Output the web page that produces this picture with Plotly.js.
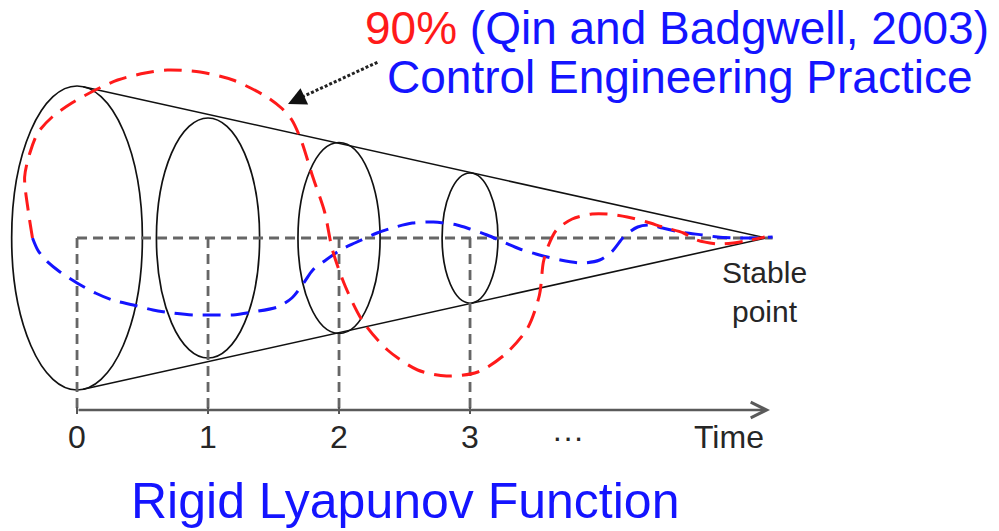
<!DOCTYPE html>
<html><head><meta charset="utf-8">
<script src="https://cdn.plot.ly/plotly-3.0.1.min.js"></script>
<style>html,body{margin:0;padding:0;background:#fff}#chart{width:999px;height:531px}</style>
</head><body><div id="chart"></div>
<script>
// ---- data (time units along x, deviation units along y) ----
const stageTimes = [0, 1, 2, 3];
const stageRadii = [1.52, 1.20, 0.955, 0.65];
const stableTime = 5.26;
const tickLabels = ["0", "1", "2", "3", "···", "Time"];
const tickTimes = [0, 1, 2, 3, 3.75, 4.98];

const redT = [-0.34,-0.37,-0.40,-0.36,-0.30,-0.19,-0.04,0.14,0.31,0.52,0.69,0.94,1.19,1.45,1.56,1.64,1.71,1.80,1.89,1.95,2.05,2.18,2.37,2.60,2.82,3.06,3.27,3.44,3.53,3.56,3.60,3.66,3.78,3.93,4.05,4.20,4.35,4.47,4.63,4.73,4.89,5.01,5.14,5.25];
const redD = [0,0.25,0.61,0.85,1.05,1.21,1.35,1.48,1.58,1.65,1.68,1.66,1.58,1.41,1.30,1.18,0.98,0.61,0.26,-0.12,-0.49,-0.83,-1.12,-1.32,-1.38,-1.34,-1.16,-0.90,-0.57,-0.24,-0.07,0.08,0.19,0.24,0.24,0.21,0.16,0.11,0.05,-0.02,-0.06,-0.05,-0.02,0.01];

const blueT = [-0.34,-0.30,-0.24,-0.13,0,0.14,0.27,0.43,0.58,0.73,0.89,1.04,1.19,1.34,1.53,1.64,1.73,1.80,1.89,2.01,2.12,2.29,2.43,2.56,2.72,2.90,3.0,3.13,3.27,3.38,3.53,3.69,3.86,3.99,4.08,4.18,4.28,4.37,4.47,4.60,4.78,4.89,5.04,5.19,5.31];
const blueD = [0,-0.12,-0.22,-0.34,-0.45,-0.55,-0.62,-0.67,-0.72,-0.75,-0.77,-0.77,-0.77,-0.74,-0.69,-0.60,-0.45,-0.32,-0.23,-0.12,-0.05,0.05,0.11,0.15,0.16,0.13,0.09,0.03,-0.05,-0.11,-0.17,-0.22,-0.25,-0.22,-0.14,0.02,0.11,0.13,0.10,0.06,0.03,0.01,0,0,0.01];

const titlePct = "90%";
const titleRest = " (Qin and Badgwell, 2003)";
const titleLine2 = "Control Engineering Practice";
const bottomTitle = "Rigid Lyapunov Function";
const stableLabel = "Stable<br>point";

// ---- layout / styling ----
const W = 999, H = 531;
const XR = [-0.588, 7.038], YR = [-2.93, 2.38];
const pxPerT = W / (XR[1] - XR[0]);
const pxPerD = H / (YR[1] - YR[0]);
const ASPECT = 0.43;            // ellipse rx/ry in pixels
const FONT = "Liberation Sans, Arial, Helvetica, sans-serif";
const axisD = -1.72;
const labelD = -1.99;
const BLUE = "#1414ff", RED = "#ff1a1a";

const shapes = [];
// ellipses
stageTimes.forEach((t, i) => {
  const r = stageRadii[i];
  const rx = ASPECT * r * pxPerD / pxPerT;
  shapes.push({type: "circle", xref: "x", yref: "y", x0: t - rx, x1: t + rx, y0: -r, y1: r,
    line: {color: "#111", width: 1.7}, layer: "below"});
});
// cone tangent lines from first ellipse to stable point
(function () {
  const b = stageRadii[0] * pxPerD, a = ASPECT * b, D = (stableTime - stageTimes[0]) * pxPerT;
  const xt = a * a / D, yt = b * Math.sqrt(1 - (a * a) / (D * D));
  const t0 = stageTimes[0] + xt / pxPerT, d0 = yt / pxPerD;
  [1, -1].forEach(s => shapes.push({type: "line", xref: "x", yref: "y", x0: t0, y0: s * d0, x1: stableTime, y1: 0,
    line: {color: "#111", width: 1.6}, layer: "below"}));
})();
// dashed reference lines
shapes.push({type: "line", xref: "x", yref: "y", x0: stageTimes[0], y0: 0, x1: stableTime + 0.05, y1: 0,
  line: {color: "#666", width: 2.8, dash: "10px,6px"}, layer: "below"});
stageTimes.forEach(t => {
  shapes.push({type: "line", xref: "x", yref: "y", x0: t, y0: 0, x1: t, y1: axisD,
    line: {color: "#666", width: 2.8, dash: "10px,6px"}, layer: "below"});
  shapes.push({type: "line", xref: "x", yref: "y", x0: t, y0: axisD + 0.03, x1: t, y1: axisD - 0.04,
    line: {color: "#555", width: 2}, layer: "below"});
});
// dotted pointer line
shapes.push({type: "line", xref: "paper", yref: "paper", x0: 302 / W, y0: 1 - 97 / H, x1: 378 / W, y1: 1 - 62 / H,
  line: {color: "#222", width: 3, dash: "3px,2px"}});

const annotations = [];
// time axis arrow
annotations.push({x: 5.29, y: axisD, ax: stageTimes[0], ay: axisD, xref: "x", yref: "y", axref: "x", ayref: "y",
  text: "", showarrow: true, arrowhead: 5, arrowsize: 1.3, arrowwidth: 2.4, arrowcolor: "#5a5a5a"});
// pointer arrow head
annotations.push({x: 288 / W, y: 1 - 104 / H, xref: "paper", yref: "paper", ax: 15, ay: -7,
  text: "", showarrow: true, arrowhead: 2, arrowsize: 1.8, arrowwidth: 2, arrowcolor: "#111"});
// tick labels
tickLabels.forEach((lab, i) => annotations.push({x: tickTimes[i], y: labelD, xref: "x", yref: "y",
  text: lab, showarrow: false, xanchor: "center", yanchor: "middle", font: {family: FONT, size: 32, color: "#262626"}}));
// stable point
annotations.push({x: 764 / W, y: 1 - 292 / H, xref: "paper", yref: "paper", text: stableLabel, showarrow: false,
  xanchor: "center", yanchor: "middle", align: "center", font: {family: FONT, size: 30, color: "#262626"}});
// titles
annotations.push({x: 677 / W, y: 1 - 28 / H, xref: "paper", yref: "paper", showarrow: false, xanchor: "center", yanchor: "middle",
  text: '<span style="color:' + RED + '">' + titlePct + '</span>' + titleRest, font: {family: FONT, size: 46, color: BLUE}});
annotations.push({x: 680 / W, y: 1 - 77 / H, xref: "paper", yref: "paper", showarrow: false, xanchor: "center", yanchor: "middle",
  text: titleLine2, font: {family: FONT, size: 46, color: BLUE}});
annotations.push({x: 405 / W, y: 1 - 501 / H, xref: "paper", yref: "paper", showarrow: false, xanchor: "center", yanchor: "middle",
  text: bottomTitle, font: {family: FONT, size: 50, color: BLUE}});

const traces = [
  {x: blueT, y: blueD, type: "scatter", mode: "lines", line: {color: BLUE, width: 3, dash: "18px,10px", shape: "spline", smoothing: 0.8}, hoverinfo: "skip"},
  {x: redT, y: redD, type: "scatter", mode: "lines", line: {color: RED, width: 3, dash: "18px,10px", shape: "spline", smoothing: 0.8}, hoverinfo: "skip"}
];

const layout = {
  width: W, height: H, margin: {l: 0, r: 0, t: 0, b: 0},
  paper_bgcolor: "#fff", plot_bgcolor: "#fff", showlegend: false,
  xaxis: {range: XR, visible: false, fixedrange: true},
  yaxis: {range: YR, visible: false, fixedrange: true},
  shapes: shapes, annotations: annotations
};
Plotly.newPlot("chart", traces, layout, {staticPlot: true, displayModeBar: false});
</script></body></html>
